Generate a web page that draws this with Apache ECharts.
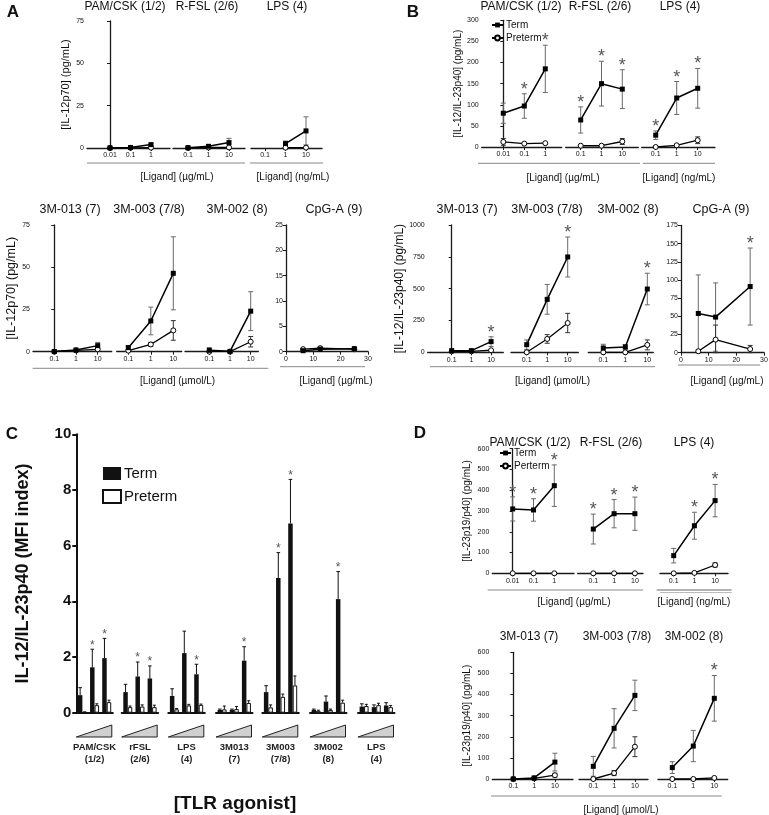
<!DOCTYPE html>
<html><head><meta charset="utf-8">
<script src="https://cdn.jsdelivr.net/npm/echarts@6/dist/echarts.min.js"></script>
<style>html,body{margin:0;padding:0;background:#fff}#c{width:769px;height:815px}</style>
</head><body><div id="c"></div>
<script>
// ================= DATA =================
const ugTicks = ['0.01', '0.1', '1'];
const logTicks = ['0.1', '1', '10'];
const cpgX = [6.25, 12.5, 25];
const topTitles = ['PAM/CSK (1/2)', 'R-FSL (2/6)', 'LPS (4)'];
const botTitles = ['3M-013 (7)', '3M-003 (7/8)', '3M-002 (8)'];

// Panel A (IL-12p70)
const aTopTerm    = [[0.1, 0.3, 2.0], [0.2, 1.0, 3.2], [null, 2.6, 10.1]];
const aTopTermErr = [[0, 0, 0.6], [0, 0.3, 2.5], [0, 1.5, 8.3]];
const aTopPre     = [[0, 0.1, 0.2], [0, 0.3, 0.3], [null, 0.2, 0.2]];
const aTopPreErr  = [[0, 0, 0], [0, 0, 0], [0, 0, 0]];
const aBotTerm    = [[0.1, 1.0, 3.6], [2.4, 18.2, 46.4], [0.8, 0.2, 24.0]];
const aBotTermErr = [[0, 0.3, 1.9], [1.2, 8.2, 21.6], [1.6, 0, 11.5]];
const aBotPre     = [[0, 0.8, 1.4], [0.6, 4.3, 12.6], [0, 0, 5.9]];
const aBotPreErr  = [[0, 0, 1.2], [0, 1.2, 5.8], [0, 0, 3.1]];
const aCpgTerm    = [0.2, 0.5, 0.6];
const aCpgTermErr = [0.1, 0.1, 0.1];
const aCpgPre     = [0.5, 0.7, 0.5];
const aCpgPreErr  = [0.1, 0.1, 0.1];

// Panel B (IL-12/IL-23p40)
const bTopTerm    = [[80, 97, 185], [64, 150, 137], [28, 116, 139]];
const bTopTermErr = [[24, 29, 56], [31, 53, 46], [10, 39, 47]];
const bTopPre     = [[12, 8, 9], [3, 3, 13], [0, 4, 16]];
const bTopPreErr  = [[8, 0, 0], [0, 0, 7], [0, 0, 8]];
const bTopStars   = [[0, 1, 1], [1, 1, 1], [1, 1, 1]];
const bBotTerm    = [[13, 13, 84], [60, 416, 749], [34, 42, 497]];
const bBotTermErr = [[0, 0, 38], [37, 117, 157], [29, 18, 124]];
const bBotPre     = [[8, 8, 16], [0, 105, 230], [0, 0, 58]];
const bBotPreErr  = [[0, 0, 0], [0, 34, 76], [0, 0, 39]];
const bBotStars   = [[0, 0, 1], [0, 0, 1], [0, 0, 1]];
const bCpgTerm    = [54, 49, 91];
const bCpgTermErr = [53, 47, 53];
const bCpgPre     = [2, 18, 5];
const bCpgPreErr  = [2, 20, 5];
const bCpgStars   = [0, 0, 1];

// Panel C (MFI index bars)
const cGroups  = ['PAM/CSK\n(1/2)', 'rFSL\n(2/6)', 'LPS\n(4)', '3M013\n(7)', '3M003\n(7/8)', '3M002\n(8)', 'LPS\n(4)'];
const cTerm    = [[0.63, 1.63, 1.96], [0.74, 1.30, 1.23], [0.60, 2.14, 1.38], [0.10, 0.10, 1.87], [0.74, 4.84, 6.80], [0.10, 0.40, 4.08], [0.22, 0.20, 0.26]];
const cTermErr = [[0.27, 0.65, 0.71], [0.28, 0.52, 0.45], [0.26, 0.79, 0.36], [0.03, 0.03, 0.50], [0.23, 0.91, 1.58], [0.03, 0.20, 0.99], [0.10, 0.08, 0.10]];
const cPre     = [[0.02, 0.27, 0.38], [0.20, 0.22, 0.20], [0.12, 0.26, 0.28], [0.12, 0.13, 0.35], [0.19, 0.57, 0.98], [0.07, 0.10, 0.36], [0.24, 0.27, 0.20]];
const cPreErr  = [[0.01, 0.05, 0.07], [0.04, 0.06, 0.07], [0.03, 0.04, 0.03], [0.12, 0.09, 0.08], [0.09, 0.10, 0.34], [0.02, 0.03, 0.09], [0.06, 0.07, 0.06]];
const cStars   = [[0, 1, 1], [0, 1, 1], [0, 0, 1], [0, 0, 1], [0, 1, 1], [0, 0, 1], [0, 0, 0]];

// Panel D (IL-23p19/p40)
const dTopTerm    = [[310, 305, 422], [213, 287, 287], [85, 229, 350]];
const dTopTermErr = [[58, 54, 100], [72, 68, 80], [35, 65, 78]];
const dTopPre     = [[0, 0, 0], [0, 0, 0], [0, 2, 40]];
const dTopPreErr  = [[0, 0, 0], [0, 0, 0], [0, 0, 10]];
const dTopStars   = [[1, 1, 1], [1, 1, 1], [0, 1, 1]];
const dBotTerm    = [[0, 5, 80], [60, 240, 396], [54, 156, 382]];
const dBotTermErr = [[0, 0, 42], [47, 93, 72], [28, 74, 108]];
const dBotPre     = [[0, 3, 18], [0, 28, 153], [0, 0, 5]];
const dBotPreErr  = [[0, 0, 9], [0, 12, 47], [0, 0, 0]];
const dBotStars   = [[0, 0, 0], [0, 0, 0], [0, 0, 1]];

// ================= LAYOUT / STYLE =================
const FONT = '"Liberation Sans", Arial, Helvetica, sans-serif';
const AX = '#1a1a1a';
const option = {
  animation: false, backgroundColor: '#fff',
  textStyle: { fontFamily: FONT },
  grid: [], xAxis: [], yAxis: [], series: [], legend: [], graphic: []
};

function errRender(color, cap, starSize, dx, oneSided) {
  return function (params, api) {
    const x = api.value(0), lo = api.value(1), hi = api.value(2), st = api.value(3);
    if (isNaN(lo) || isNaN(hi)) return null;
    const a = api.coord([x, hi]), b = api.coord([x, lo]);
    const cx = a[0] + (dx || 0);
    const ch = [];
    const ls = { stroke: color, lineWidth: 1 };
    if (hi > lo) {
      ch.push({ type: 'line', shape: { x1: cx, y1: a[1], x2: cx, y2: b[1] }, style: ls });
      ch.push({ type: 'line', shape: { x1: cx - cap, y1: a[1], x2: cx + cap, y2: a[1] }, style: ls });
      if (!oneSided) ch.push({ type: 'line', shape: { x1: cx - cap, y1: b[1], x2: cx + cap, y2: b[1] }, style: ls });
    }
    if (st) ch.push({ type: 'text', x: cx, y: a[1] - 4, style: { text: '*', align: 'center', verticalAlign: 'middle', fontSize: starSize, fontFamily: FONT, fill: '#555' } });
    return { type: 'group', children: ch };
  };
}

function addGrid(L, top, W, H) {
  option.grid.push({ left: L, top: top, width: W, height: H, containLabel: false, outerBoundsMode: 'none', show: false });
  return option.grid.length - 1;
}

function linePanel(p) {
  const gi = addGrid(p.L, p.top, p.R - p.L, p.zero - p.top);
  option.xAxis.push({
    type: 'value', gridIndex: gi, min: p.xmin, max: p.xmax,
    axisLine: { show: true, onZero: false, lineStyle: { color: AX, width: 1.3 } },
    axisTick: { show: true, customValues: p.tickVals, length: 3, lineStyle: { color: AX, width: 1 } },
    axisLabel: { show: true, customValues: p.tickVals, fontSize: 7, color: '#111', margin: 4,
      formatter: v => p.tickLabels ? p.tickLabels[p.tickVals.indexOf(v)] : String(v) },
    splitLine: { show: false }
  });
  option.yAxis.push({
    type: 'value', gridIndex: gi, min: 0, max: p.yMax, interval: p.yInt, show: !!p.showY,
    axisLine: { show: true, lineStyle: { color: AX, width: 1.3 } },
    axisTick: { show: true, length: 3, lineStyle: { color: AX } },
    axisLabel: { fontSize: 7, color: '#111', margin: 3, formatter: v => String(v) },
    splitLine: { show: false },
    name: p.yName || '', nameLocation: 'middle', nameRotate: 90, nameGap: p.yNameGap || 18,
    nameTextStyle: { fontSize: p.yNameSize || 11, color: '#111' }
  });
  const ai = option.xAxis.length - 1;
  const pts = vals => p.xs.map((x, i) => [x, vals[i] == null ? '-' : vals[i]]);
  const errs = (vals, err, st) => p.xs.map((x, i) => vals[i] == null ? [x, '-', '-', 0] :
    [x, Math.max(0, vals[i] - err[i]), vals[i] + err[i], st ? st[i] : 0]);
  option.series.push({ type: 'custom', xAxisIndex: ai, yAxisIndex: ai, silent: true, z: 2, clip: false,
    renderItem: errRender('#6a6a6a', 2.5, 18, 0, false), data: errs(p.term, p.termErr, p.stars) });
  option.series.push({ type: 'custom', xAxisIndex: ai, yAxisIndex: ai, silent: true, z: 2, clip: false,
    renderItem: errRender('#333', 2.5, 18, 0, false), data: errs(p.pre, p.preErr, null) });
  option.series.push({ name: p.preName || 'Preterm', type: 'line', xAxisIndex: ai, yAxisIndex: ai, silent: true, z: 3,
    data: pts(p.pre), showSymbol: true, symbol: 'circle', symbolSize: 5,
    lineStyle: { color: '#000', width: 1.3 }, itemStyle: { color: '#fff', borderColor: '#000', borderWidth: 1 },
    emphasis: { disabled: true } });
  option.series.push({ name: 'Term', type: 'line', xAxisIndex: ai, yAxisIndex: ai, silent: true, z: 4,
    data: pts(p.term), showSymbol: true, symbol: 'rect', symbolSize: 5,
    lineStyle: { color: '#000', width: 1.5 }, itemStyle: { color: '#000' },
    emphasis: { disabled: true } });
}

// sub-panel layouts: [left, right, firstTickX, tickSpacing]
function row(cfg) {
  cfg.subs.forEach((s, k) => {
    const [L, R, t0, sp] = s;
    linePanel({
      L, R, top: cfg.top, zero: cfg.zero, xmin: (L - t0) / sp, xmax: (R - t0) / sp,
      xs: [0, 1, 2], tickVals: [0, 1, 2], tickLabels: cfg.ticks[k],
      yMax: cfg.yMax, yInt: cfg.yInt, showY: k === 0,
      yName: k === 0 ? cfg.yName : '', yNameSize: cfg.yNameSize, yNameGap: cfg.yNameGap,
      term: cfg.term[k], termErr: cfg.termErr[k], pre: cfg.pre[k], preErr: cfg.preErr[k],
      stars: cfg.stars ? cfg.stars[k] : null, preName: cfg.preName
    });
  });
}

// ---- Panel A ----
row({ top: 21, zero: 148, yMax: 75, yInt: 25, yName: '[IL-12p70] (pg/mL)', yNameSize: 11, yNameGap: 16,
  subs: [[87, 170, 110, 20.5], [173, 245, 188, 20.5], [251, 322, 265, 20.5]],
  ticks: [ugTicks, logTicks, logTicks],
  term: aTopTerm, termErr: aTopTermErr, pre: aTopPre, preErr: aTopPreErr });
row({ top: 225, zero: 351.7, yMax: 75, yInt: 25, yName: '[IL-12p70] (pg/mL)', yNameSize: 12.5, yNameGap: 12,
  subs: [[33, 111.7, 54.3, 21.7], [116.7, 181.7, 128.3, 22.5], [185, 258.3, 209.3, 20.7]],
  ticks: [logTicks, logTicks, logTicks],
  term: aBotTerm, termErr: aBotTermErr, pre: aBotPre, preErr: aBotPreErr });
linePanel({ L: 286, R: 368, top: 225, zero: 351.7, xmin: 0, xmax: 30, xs: cpgX, tickVals: [0, 10, 20, 30],
  tickLabels: null, yMax: 25, yInt: 5, showY: true,
  term: aCpgTerm, termErr: aCpgTermErr, pre: aCpgPre, preErr: aCpgPreErr });

// ---- Panel B ----
row({ top: 20.3, zero: 147, yMax: 300, yInt: 50, yName: '[IL-12/IL-23p40] (pg/mL)', yNameSize: 10, yNameGap: 16,
  subs: [[481.7, 561.7, 503.3, 21], [565.7, 638.3, 580.7, 20.8], [641.7, 715, 655.7, 21]],
  ticks: [ugTicks, logTicks, logTicks],
  term: bTopTerm, termErr: bTopTermErr, pre: bTopPre, preErr: bTopPreErr, stars: bTopStars });
row({ top: 225, zero: 352.3, yMax: 1000, yInt: 250, yName: '[IL-12/IL-23p40] (pg/mL)', yNameSize: 12, yNameGap: 20,
  subs: [[427.7, 503.3, 451.7, 19.7], [511, 578.3, 526.7, 20.5], [588.3, 653.3, 603.3, 22]],
  ticks: [logTicks, logTicks, logTicks],
  term: bBotTerm, termErr: bBotTermErr, pre: bBotPre, preErr: bBotPreErr, stars: bBotStars });
linePanel({ L: 681, R: 764, top: 225.5, zero: 352.7, xmin: 0, xmax: 30, xs: cpgX, tickVals: [0, 10, 20, 30],
  tickLabels: null, yMax: 175, yInt: 25, showY: true,
  term: bCpgTerm, termErr: bCpgTermErr, pre: bCpgPre, preErr: bCpgPreErr, stars: bCpgStars });

// ---- Panel D ----
row({ top: 448.7, zero: 573.3, yMax: 600, yInt: 100, yName: '[IL-23p19/p40] (pg/mL)', yNameSize: 10, yNameGap: 20,
  subs: [[492.3, 574, 512.7, 20.8], [577.7, 643, 593.3, 20.8], [660, 728, 673.7, 20.7]],
  ticks: [ugTicks, logTicks, logTicks], preName: 'Perterm',
  term: dTopTerm, termErr: dTopTermErr, pre: dTopPre, preErr: dTopPreErr, stars: dTopStars });
row({ top: 652.3, zero: 779, yMax: 600, yInt: 100, yName: '[IL-23p19/p40] (pg/mL)', yNameSize: 10, yNameGap: 20,
  subs: [[492.3, 573, 513.3, 20.8], [579, 648, 593.3, 20.8], [658, 727.7, 672.3, 21]],
  ticks: [logTicks, logTicks, logTicks], preName: 'Perterm',
  term: dBotTerm, termErr: dBotTermErr, pre: dBotPre, preErr: dBotPreErr, stars: dBotStars });

// ---- Panel C ----
const cLefts = [76.3, 121.7, 168.3, 216, 262.3, 310, 358];
const cW = 36.5, cTop = 434.3, cZero = 712.7;
cGroups.forEach((g, k) => {
  const gi = addGrid(cLefts[k], cTop, cW, cZero - cTop);
  option.xAxis.push({
    type: 'category', gridIndex: gi, data: ['1', '2', '3'],
    axisLine: { show: true, lineStyle: { color: '#111', width: 2 } },
    axisTick: { show: false }, axisLabel: { show: false }, splitLine: { show: false },
    name: g, nameLocation: 'middle', nameGap: 29,
    nameTextStyle: { fontSize: 9.5, fontWeight: 'bold', color: '#222', lineHeight: 12 }
  });
  option.yAxis.push({
    type: 'value', gridIndex: gi, min: 0, max: 10, interval: 2, show: k === 0,
    axisLine: { show: true, lineStyle: { color: '#111', width: 2 } },
    axisTick: { show: true, length: 4, lineStyle: { color: '#111', width: 2 } },
    axisLabel: { fontSize: 15, fontWeight: 'bold', color: '#111', margin: 5 },
    splitLine: { show: false },
    name: k === 0 ? 'IL-12/IL-23p40 (MFI index)' : '', nameLocation: 'middle', nameRotate: 90, nameGap: 44,
    nameTextStyle: { fontSize: 18, fontWeight: 'bold', color: '#111' }
  });
  const ai = option.xAxis.length - 1;
  option.series.push({ name: 'TermC', type: 'bar', xAxisIndex: ai, yAxisIndex: ai, silent: true,
    data: cTerm[k], barWidth: 4.5, barGap: '0%', itemStyle: { color: '#111' }, z: 3 });
  option.series.push({ name: 'PretermC', type: 'bar', xAxisIndex: ai, yAxisIndex: ai, silent: true,
    data: cPre[k], barWidth: 4.5, barGap: '0%', itemStyle: { color: '#fff', borderColor: '#111', borderWidth: 1 }, z: 3 });
  option.series.push({ type: 'custom', xAxisIndex: ai, yAxisIndex: ai, silent: true, z: 4, clip: false,
    renderItem: errRender('#111', 1.8, 12, -2.25, true),
    data: cTerm[k].map((v, i) => [i, v, v + cTermErr[k][i], cStars[k][i]]) });
  option.series.push({ type: 'custom', xAxisIndex: ai, yAxisIndex: ai, silent: true, z: 4, clip: false,
    renderItem: errRender('#111', 1.5, 12, 2.25, true),
    data: cPre[k].map((v, i) => [i, v, v + cPreErr[k][i], 0]) });
  option.graphic.push({ type: 'polygon', silent: true,
    shape: { points: [[cLefts[k], 737], [cLefts[k] + cW - 1, 737], [cLefts[k] + cW - 1, 725]] },
    style: { fill: '#d0d0d0', stroke: '#222', lineWidth: 1 } });
});

// ---- Legends ----
option.legend.push({ data: ['Term', 'Preterm'], orient: 'vertical', left: 491, top: 20, padding: 0, itemWidth: 11, itemHeight: 6,
  itemGap: 3, selectedMode: false, textStyle: { fontSize: 10, color: '#111', padding: [0, 0, 0, -2] } });
option.legend.push({ data: ['Term', 'Perterm'], orient: 'vertical', left: 499, top: 448, padding: 0, itemWidth: 11, itemHeight: 6,
  itemGap: 3, selectedMode: false, textStyle: { fontSize: 10, color: '#111', padding: [0, 0, 0, -2] } });
option.legend.push({ data: ['TermC', 'PretermC'], orient: 'vertical', left: 102, top: 466, padding: 0, itemWidth: 18, itemHeight: 13,
  icon: 'rect', itemGap: 8, selectedMode: false, formatter: n => n === 'TermC' ? 'Term' : 'Preterm',
  textStyle: { fontSize: 15, color: '#111', padding: [0, 0, 0, -2] } });

// ---- Text / decorations ----
function txt(s, x, y, size, weight, color) {
  option.graphic.push({ type: 'text', x: x, y: y, silent: true,
    style: { text: s, align: 'center', verticalAlign: 'middle', fontSize: size, fontWeight: weight || 'normal', fontFamily: FONT, fill: color || '#111' } });
}
function hline(x1, x2, y, color, w) {
  option.graphic.push({ type: 'line', silent: true, shape: { x1: x1, y1: y, x2: x2, y2: y }, style: { stroke: color || '#888', lineWidth: w || 1 } });
}
txt('A', 13, 12, 17, 'bold'); txt('B', 413, 12, 17, 'bold');
txt('C', 12, 434, 17, 'bold'); txt('D', 420, 433, 17, 'bold');

[125, 207, 287].forEach((x, i) => txt(topTitles[i], x, 7, 12));
[70, 149, 237].forEach((x, i) => txt(botTitles[i], x, 210, 12.5));
txt('CpG-A (9)', 334, 210, 12.5);
[521, 600, 680].forEach((x, i) => txt(topTitles[i], x, 7, 12));
[467, 547, 628].forEach((x, i) => txt(botTitles[i], x, 210, 12.5));
txt('CpG-A (9)', 721, 210, 12.5);
[530, 611, 694].forEach((x, i) => txt(topTitles[i], x, 442.5, 12));
[529, 617, 694].forEach((x, i) => txt(botTitles[i], x, 636.7, 12));

hline(87, 245, 163); hline(250, 323, 163);
txt('[Ligand] (\u00b5g/mL)', 177, 177, 10); txt('[Ligand] (ng/mL)', 293, 177, 10);
hline(32.7, 268.3, 368.3); hline(280, 365, 366.7);
txt('[Ligand] (\u00b5mol/L)', 177.5, 381.7, 10); txt('[Ligand] (\u00b5g/mL)', 336, 381.7, 10);
hline(478, 640, 163.3); hline(643, 715, 163.3);
txt('[Ligand] (\u00b5g/mL)', 563, 178, 10); txt('[Ligand] (ng/mL)', 679, 178, 10);
hline(430, 655, 366.7); hline(678, 760, 365);
txt('[Ligand] (\u00b5mol/L)', 552.5, 381.7, 10); txt('[Ligand] (\u00b5g/mL)', 727, 381.7, 10);
hline(487.7, 643, 590); hline(656.7, 731.7, 590, '#666'); hline(660, 731.7, 592.5, '#bbb');
txt('[Ligand] (\u00b5g/mL)', 574, 602, 10); txt('[Ligand] (ng/mL)', 694, 602, 10);
hline(491, 721.7, 796);
txt('[Ligand] (\u00b5mol/L)', 621, 810, 10);
txt('[TLR agonist]', 235, 804, 19, 'bold');

const chart = echarts.init(document.getElementById('c'), null, { renderer: 'canvas' });
chart.setOption(option);
</script></body></html>
